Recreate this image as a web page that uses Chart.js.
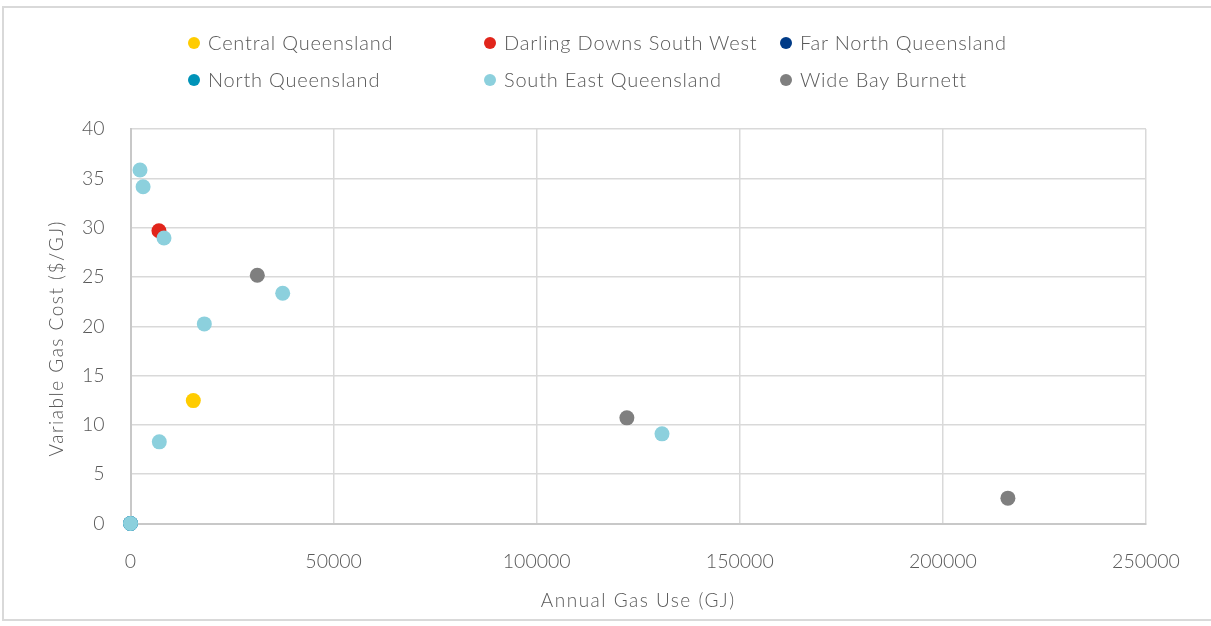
<!DOCTYPE html>
<html>
<head>
<meta charset="utf-8">
<script src="https://cdn.jsdelivr.net/npm/chart.js@4/dist/chart.umd.min.js"></script>
<style>
  html, body { margin: 0; padding: 0; background: #fff; }
  #wrap { position: relative; width: 1211px; height: 626px; overflow: hidden; }
  #frame { position: absolute; left: 2px; top: 6px; width: 1230px; height: 615px; border: 2px solid #d9d9d9; box-sizing: border-box; }
  #legend { position: absolute; left: 0; top: 0; font-family: "Lato", sans-serif; font-weight: 300; font-size: 20px; color: #595959; letter-spacing: 0.8px; }
  .item { position: absolute; white-space: nowrap; line-height: 24px; }
  .dot { display: inline-block; width: 12px; height: 12px; border-radius: 50%; margin-right: 8px; vertical-align: 1px; }
</style>
</head>
<body>
<div id="wrap">
  <div id="frame"></div>
  <canvas id="gasChart" width="1211" height="626"></canvas>
  <div id="legend"></div>
</div>
<script>
// Region names and colours
const regions = ['Central Queensland', 'Darling Downs South West', 'Far North Queensland',
                 'North Queensland', 'South East Queensland', 'Wide Bay Burnett'];
const colours = ['#FFCC00', '#E1251B', '#003B87', '#0093B8', '#8CD0DD', '#7F7F7F'];

// Annual gas use (GJ) and variable gas cost ($/GJ) per site, by region
const centralQldUse = [15460];
const centralQldCost = [12.46];
const darlingDownsUse = [7000];
const darlingDownsCost = [29.69];
const farNorthQldUse = [0];
const farNorthQldCost = [0];
const northQldUse = [0];
const northQldCost = [0];
const southEastQldUse = [0, 2340, 3100, 8250, 18170, 37470, 7090, 130850];
const southEastQldCost = [0, 35.84, 34.14, 28.95, 20.24, 23.34, 8.28, 9.09];
const wideBayUse = [31220, 122200, 216000];
const wideBayCost = [25.17, 10.71, 2.57];

// Axis ticks and titles
const xTicks = [0, 50000, 100000, 150000, 200000, 250000];
const yTicks = [0, 5, 10, 15, 20, 25, 30, 35, 40];
const xTitle = 'Annual Gas Use (GJ)';
const yTitle = 'Variable Gas Cost ($/GJ)';

const useData = [centralQldUse, darlingDownsUse, farNorthQldUse, northQldUse, southEastQldUse, wideBayUse];
const costData = [centralQldCost, darlingDownsCost, farNorthQldCost, northQldCost, southEastQldCost, wideBayCost];

function points(xs, ys) {
    return xs.map((x, i) => ({ x: x, y: ys[i] }));
}

const datasets = regions.map((name, i) => ({
    label: name,
    data: points(useData[i], costData[i]),
    backgroundColor: colours[i],
    borderWidth: 0,
    pointRadius: 7.5,
    pointHoverRadius: 7.5,
    clip: false,
    order: regions.length - i   // later regions sit on top
}));

const fontFamily = '"Lato", sans-serif';
const textColour = '#595959';

// Axis titles drawn with a little letter spacing
const axisTitles = {
    id: 'axisTitles',
    afterDraw(chart) {
        const c = chart.ctx;
        const area = chart.chartArea;
        c.save();
        c.fillStyle = textColour;
        c.font = '300 19px ' + fontFamily;
        c.letterSpacing = '1.5px';
        c.textAlign = 'center';
        c.textBaseline = 'middle';
        c.fillText(xTitle, (area.left + area.right) / 2, 601);
        c.translate(57, (area.top + area.bottom) / 2 + 12);
        c.rotate(-Math.PI / 2);
        c.fillText(yTitle, 0, 0);
        c.restore();
    }
};

const ctx = document.getElementById('gasChart').getContext('2d');
const gasChart = new Chart(ctx, {
    type: 'scatter',
    data: { datasets: datasets },
    plugins: [axisTitles],
    options: {
        responsive: false,
        animation: false,
        layout: { padding: { top: 129, right: 65, left: 0, bottom: 0 } },
        plugins: {
            legend: { display: false },
            tooltip: { enabled: false }
        },
        scales: {
            x: {
                type: 'linear',
                min: 0,
                max: 250000,
                afterBuildTicks: (scale) => { scale.ticks = xTicks.map(v => ({ value: v })); },
                afterFit: (scale) => { scale.height = 102.5; },
                grid: { color: '#d9d9d9', lineWidth: 1.5, drawTicks: false },
                border: { color: '#c8c8c8', width: 2 },
                ticks: {
                    padding: 27,
                    color: textColour,
                    font: { family: fontFamily, size: 19.5, weight: '300' },
                    callback: (v) => String(v),
                    maxRotation: 0
                }
            },
            y: {
                type: 'linear',
                min: 0,
                max: 40,
                afterBuildTicks: (scale) => { scale.ticks = yTicks.map(v => ({ value: v })); },
                afterFit: (scale) => { scale.width = 130.5; },
                grid: { color: '#d9d9d9', lineWidth: 1.5, drawTicks: false },
                border: { color: '#c8c8c8', width: 2 },
                ticks: {
                    padding: 26,
                    color: textColour,
                    font: { family: fontFamily, size: 19.5, weight: '300' }
                }
            }
        }
    }
});

// Legend laid out in two rows of three, built from the datasets
const legendCols = [188, 484, 780];
const legendRows = [30, 67];
const legend = document.getElementById('legend');
gasChart.data.datasets.forEach((ds, i) => {
    const item = document.createElement('div');
    item.className = 'item';
    item.style.left = legendCols[i % 3] + 'px';
    item.style.top = legendRows[Math.floor(i / 3)] + 'px';
    const dot = document.createElement('span');
    dot.className = 'dot';
    dot.style.background = ds.backgroundColor;
    item.appendChild(dot);
    item.appendChild(document.createTextNode(ds.label));
    legend.appendChild(item);
});
</script>
</body>
</html>
